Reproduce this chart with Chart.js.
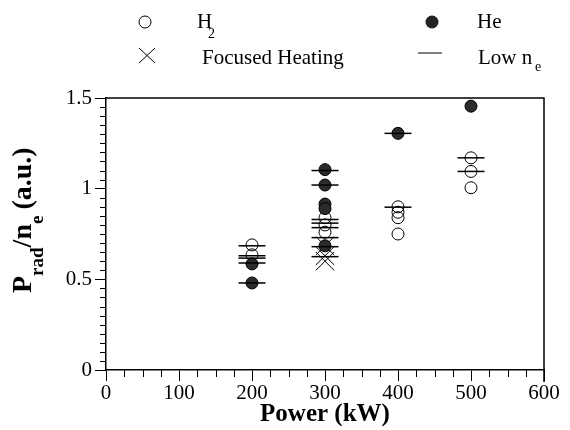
<!DOCTYPE html>
<html>
<head>
<meta charset="utf-8">
<script src="https://cdn.jsdelivr.net/npm/chart.js@4.4.1/dist/chart.umd.min.js"></script>
<style>
  html, body { margin: 0; background: #fff; }
</style>
</head>
<body>
<canvas id="pradChart" width="570" height="430"></canvas>
<script>
// P_rad / n_e versus heating power
const h2Power = [200, 200, 300, 300, 300, 400, 400, 400, 400, 500, 500, 500];
const h2Prad = [0.69, 0.635, 0.84, 0.80, 0.76, 0.90, 0.87, 0.84, 0.75, 1.17, 1.095, 1.005];

const hePower = [200, 200, 300, 300, 300, 300, 300, 400, 500];
const hePrad = [0.585, 0.48, 1.105, 1.02, 0.915, 0.89, 0.685, 1.305, 1.455];

const focusedPower = [300, 300, 300];
const focusedPrad = [0.685, 0.63, 0.60];

const lowNePower = [200, 200, 200, 200, 200, 300, 300, 300, 300, 300, 300, 300, 300, 400, 400, 500, 500];
const lowNePrad = [0.685, 0.63, 0.617, 0.59, 0.48, 1.10, 1.02, 0.83, 0.81, 0.785, 0.73, 0.68, 0.625, 1.305, 0.898, 1.17, 1.095];

const xTicks = [0, 100, 200, 300, 400, 500, 600];
const yTicks = [0, 0.5, 1, 1.5];

const serif = 'Liberation Serif';

function toPoints(xs, ys) {
  return xs.map((x, i) => ({ x: x, y: ys[i] }));
}

// minor ticks, top/right frame, y title and legend
const decorations = {
  id: 'decorations',
  afterDraw(chart) {
    const ctx = chart.ctx;
    const area = chart.chartArea;
    const xs = chart.scales.x;
    const ys = chart.scales.y;
    ctx.save();
    ctx.strokeStyle = '#000';
    ctx.lineWidth = 1;

    ctx.beginPath();
    for (let v = 25; v < 600; v += 25) {
      if (v % 100 === 0) continue;
      const px = Math.round(xs.getPixelForValue(v)) + 0.5;
      ctx.moveTo(px, area.bottom);
      ctx.lineTo(px, area.bottom + 7);
    }
    for (let k = 1; k < 30; k++) {
      if (k % 10 === 0) continue;
      const py = Math.round(ys.getPixelForValue(k * 0.05)) + 0.5;
      ctx.moveTo(area.left - 6, py);
      ctx.lineTo(area.left, py);
    }
    ctx.stroke();

    ctx.lineWidth = 1.5;
    ctx.beginPath();
    ctx.moveTo(area.left, area.top);
    ctx.lineTo(area.right, area.top);
    ctx.lineTo(area.right, area.bottom + 12);
    ctx.stroke();

    // y title with subscripts
    ctx.fillStyle = '#000';
    ctx.translate(31, 293);
    ctx.rotate(-Math.PI / 2);
    ctx.textBaseline = 'alphabetic';
    ctx.textAlign = 'left';
    let pos = 0;
    const part = (txt, size, dy) => {
      ctx.font = 'bold ' + size + 'px "' + serif + '"';
      ctx.fillText(txt, pos, dy);
      pos += ctx.measureText(txt).width;
    };
    part('P', 28, 0);
    part('rad', 19, 12);
    part('/n', 28, 0);
    part('e', 19, 12);
    pos += 6;
    part('(a.u.)', 28, 0);
    ctx.restore();

    // legend
    ctx.save();
    ctx.strokeStyle = '#000';
    ctx.fillStyle = '#000';
    ctx.lineWidth = 1;
    ctx.beginPath();
    ctx.arc(145, 22, 6, 0, Math.PI * 2);
    ctx.stroke();
    ctx.beginPath();
    ctx.arc(432, 22, 6.5, 0, Math.PI * 2);
    ctx.fillStyle = '#222';
    ctx.fill();
    ctx.beginPath();
    ctx.moveTo(139, 48); ctx.lineTo(155, 63);
    ctx.moveTo(155, 48); ctx.lineTo(139, 63);
    ctx.moveTo(418, 53); ctx.lineTo(442, 53);
    ctx.stroke();

    ctx.fillStyle = '#000';
    ctx.textBaseline = 'alphabetic';
    ctx.font = '21px "' + serif + '"';
    ctx.fillText('H', 197, 28);
    ctx.fillText('He', 477, 28);
    ctx.fillText('Focused Heating', 202, 64);
    ctx.fillText('Low n', 478, 64);
    ctx.font = '14px "' + serif + '"';
    ctx.fillText('2', 208, 38);
    ctx.fillText('e', 535, 71);
    ctx.restore();
  }
};

const data = {
  datasets: [
    {
      label: 'Low ne',
      data: toPoints(lowNePower, lowNePrad),
      pointStyle: 'line',
      radius: 13.5,
      borderColor: '#000',
      borderWidth: 1.5,
      order: 0
    },
    {
      label: 'He',
      data: toPoints(hePower, hePrad),
      pointStyle: 'circle',
      radius: 6,
      backgroundColor: '#2b2b2b',
      borderColor: '#000',
      borderWidth: 1,
      order: 1
    },
    {
      label: 'Focused Heating',
      data: toPoints(focusedPower, focusedPrad),
      pointStyle: 'crossRot',
      radius: 13,
      borderColor: '#000',
      borderWidth: 1,
      order: 2
    },
    {
      label: 'H2',
      data: toPoints(h2Power, h2Prad),
      pointStyle: 'circle',
      radius: 6,
      backgroundColor: 'rgba(0,0,0,0)',
      borderColor: '#000',
      borderWidth: 1,
      order: 3
    }
  ]
};

const options = {
  type: 'scatter',
  data,
  plugins: [decorations],
  options: {
    responsive: false,
    animation: false,
    events: [],
    layout: { padding: { top: 98, right: 26, left: 0, bottom: 0 } },
    plugins: {
      legend: { display: false },
      tooltip: { enabled: false }
    },
    scales: {
      x: {
        type: 'linear',
        min: 0,
        max: 600,
        afterFit: (s) => { s.height = 60; },
        afterBuildTicks: (s) => { s.ticks = xTicks.map(v => ({ value: v })); },
        ticks: {
          color: '#000',
          padding: 0,
          callback: (v) => String(v),
          font: { family: serif, size: 21 }
        },
        grid: { drawOnChartArea: false, tickLength: 11, color: '#000' },
        border: { color: '#000', width: 1.5 },
        title: {
          display: true,
          text: 'Power (kW)',
          color: '#000',
          font: { family: serif, size: 25, weight: 'bold' },
          padding: { top: 0, bottom: 0 }
        }
      },
      y: {
        type: 'linear',
        min: 0,
        max: 1.5,
        afterFit: (s) => { s.width = 106; },
        afterBuildTicks: (s) => { s.ticks = yTicks.map(v => ({ value: v })); },
        ticks: {
          color: '#000',
          padding: 3,
          callback: (v) => String(v),
          font: { family: serif, size: 21 }
        },
        grid: { drawOnChartArea: false, tickLength: 11, color: '#000' },
        border: { color: '#000', width: 1.5 }
      }
    }
  }
};

let pradChart = new Chart(document.getElementById('pradChart'), options);
</script>
</body>
</html>
